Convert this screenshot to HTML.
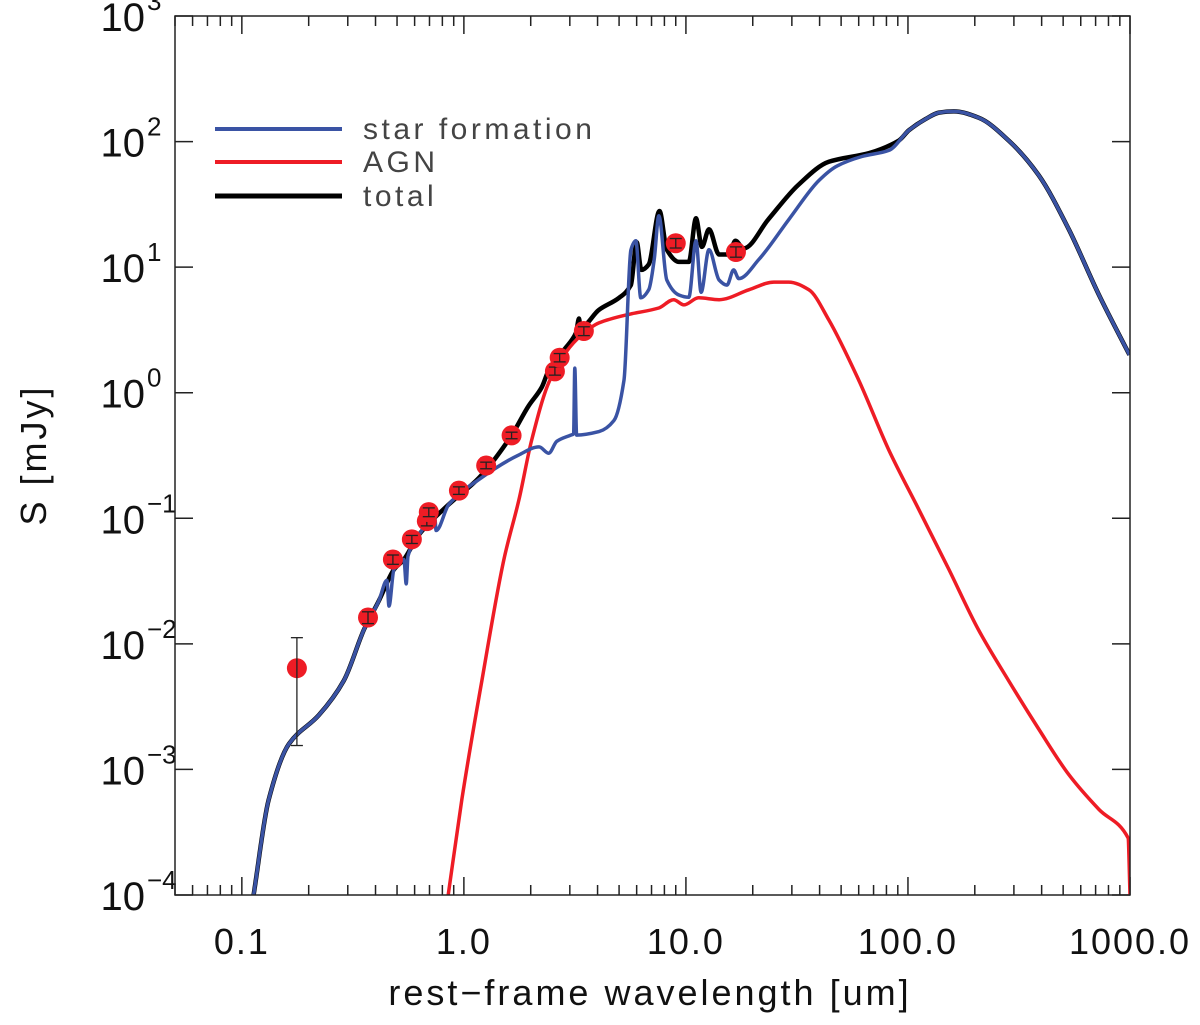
<!DOCTYPE html>
<html><head><meta charset="utf-8"><style>
html,body{margin:0;padding:0;background:#fff;}
svg{display:block;font-family:"Liberation Sans",sans-serif;}
</style></head><body>
<svg id="chart" width="1200" height="1025" viewBox="0 0 1200 1025" xmlns="http://www.w3.org/2000/svg"></svg>
<script>
// ---- data (wavelength in um, flux in mJy) ----
const sfLam = [0.113,0.132,0.163,0.222,0.288,0.355,0.414,0.45,0.46,0.484,0.537,0.55,0.56,0.627,0.74,0.75,0.855,1.17,1.77,2.18,2.41,2.62,3.03,3.12,3.16,3.22,4.06,4.74,5.26,5.65,5.95,6.26,6.8,7.2,7.55,8.2,9.3,10.3,11.1,11.7,12.7,14.1,15.3,16.4,17.3,21.3,29.1,39.7,48,62,82,101,120,138,161,208,284,388,530,725,995];
const sfS   = [1e-4,5.7e-4,1.6e-3,2.7e-3,5.1e-3,1.3e-2,2.2e-2,3.2e-2,2.0e-2,3.9e-2,4.7e-2,3.0e-2,5.0e-2,7.4e-2,0.1,0.08,0.129,0.204,0.32,0.37,0.33,0.41,0.46,0.47,1.57,0.46,0.49,0.60,1.26,13.7,16.2,5.7,6.6,11.5,25.7,7.9,6.0,5.75,16.2,6.3,13.8,7.9,7.2,9.5,8.1,11.5,24,49,64,76,85,123,151,170,174,155,102,54,20,6.0,2.0];
const agnLam = [0.85,0.98,1.205,1.515,1.77,2.02,2.41,2.88,3.4,4.06,5.5,7.55,8.8,9.8,11.4,14.1,19.2,24.9,29,35.8,44,60,82,112,153,208,284,388,530,725,980,1000];
const agnS   = [1e-4,5.8e-4,5.1e-3,4.7e-2,0.14,0.42,1.2,2.1,2.9,3.6,4.2,4.73,5.5,5.0,5.7,5.5,6.6,7.6,7.6,6.6,3.8,1.26,0.35,0.117,0.039,0.0129,0.0051,0.0021,9.1e-4,4.8e-4,2.85e-4,1e-4];
const totLam = [0.113,0.132,0.163,0.222,0.288,0.355,0.414,0.484,0.537,0.627,0.855,1.17,1.63,1.96,2.24,2.41,2.82,3.2,3.3,3.35,4.06,5.0,5.65,6.0,6.3,6.8,7.6,8.2,9.3,10.3,11.1,11.8,12.7,14.1,15.6,16.7,18.2,23.5,32,44,67,91,101,120,138,161,208,284,388,530,725,995];
const totS   = [1e-4,5.7e-4,1.6e-3,2.7e-3,5.1e-3,1.3e-2,2.2e-2,3.9e-2,4.7e-2,7.4e-2,0.129,0.21,0.45,0.79,1.1,1.51,2.19,3.0,3.9,3.3,4.57,5.7,7.2,15.8,9.5,10.5,28,13.8,11.0,11.0,24.5,14.5,20,12.6,12.6,16.2,14.1,24,45,69,81,102,123,151,170,174,155,102,54,20,6.0,2.0];
const ptLam = [0.177,0.370,0.479,0.583,0.681,0.695,0.95,1.26,1.64,2.57,2.70,3.47,9.0,16.8];
const ptS   = [6.4e-3,1.62e-2,4.7e-2,6.8e-2,9.5e-2,0.112,0.166,0.263,0.457,1.48,1.9,3.1,15.5,13.2];
const ptLo  = [1.55e-3,1.45e-2,4.3e-2,6.3e-2,8.7e-2,0.103,0.155,0.248,0.43,1.38,1.76,2.85,14.2,12.0];
const ptHi  = [1.12e-2,1.8e-2,5.1e-2,7.3e-2,0.103,0.121,0.178,0.28,0.485,1.6,2.05,3.35,16.9,14.5];
const xTickVals = [0.1,1,10,100,1000];
const xTickLabels = ["0.1","1.0","10.0","100.0","1000.0"];
const yTickExps = [-4,-3,-2,-1,0,1,2,3];

// ---- axes ----
const L=175,R=1130,T=16,B=895;
const XMIN=0.05,XMAX=1000,YMIN=-4,YMAX=3;
function xs(v){return L+(Math.log10(v)-Math.log10(XMIN))/(Math.log10(XMAX)-Math.log10(XMIN))*(R-L);}
function ys(v){return B-(Math.log10(v)-YMIN)/(YMAX-YMIN)*(B-T);}
const NS="http://www.w3.org/2000/svg";
const svg=document.getElementById('chart');
function mk(tag,attrs,parent){const e=document.createElementNS(NS,tag);for(const k in attrs)e.setAttribute(k,attrs[k]);(parent||svg).appendChild(e);return e;}

const clip=mk('clipPath',{id:'pc'});mk('rect',{x:L,y:T,width:R-L,height:B-T},clip);

// ticks
const ticks=mk('g',{stroke:'#222','stroke-width':1.5});


for(let d=-2;d<=3;d++){for(let m=1;m<=9;m++){const v=m*Math.pow(10,d);if(v<XMIN||v>XMAX)continue;const x=xs(v);const len=m===1?18:10;
 mk('line',{x1:x,y1:B,x2:x,y2:B-len},ticks);mk('line',{x1:x,y1:T,x2:x,y2:T+len},ticks);}}
yTickExps.forEach(e=>{const y=ys(Math.pow(10,e));mk('line',{x1:L,y1:y,x2:L+18,y2:y},ticks);mk('line',{x1:R,y1:y,x2:R-18,y2:y},ticks);});

// tick labels
xTickVals.forEach((v,i)=>{const t=mk('text',{x:xs(v),y:954,'font-size':36,'text-anchor':'middle',fill:'#111','letter-spacing':2});t.textContent=xTickLabels[i];
 
 });
yTickExps.forEach(e=>{const y=ys(Math.pow(10,e));const t=mk('text',{x:145,y:y+15,'font-size':40,'text-anchor':'end',fill:'#111'});t.textContent='10';
 
 
 const s=mk('text',{x:147,y:y-6,'font-size':26,'text-anchor':'start',fill:'#111'});s.textContent=(e<0?'\u2212'+(-e):String(e));
 
 });

// curves (monotone cubic through data points, in pixel space)
const plot=mk('g',{'clip-path':'url(#pc)',fill:'none','stroke-linejoin':'round'});


function path(lam,S){
 const X=lam.map(xs),Y=S.map(ys),n=X.length;
 const d=[],m=[];
 for(let i=0;i<n-1;i++){const h=X[i+1]-X[i];d.push(h>0?(Y[i+1]-Y[i])/h:0);}
 for(let i=0;i<n;i++){
  if(i===0)m.push(d[0]);else if(i===n-1)m.push(d[n-2]);
  else if(d[i-1]*d[i]<=0)m.push(0);
  else m.push(2/(1/d[i-1]+1/d[i]));
 }
 let p='M'+X[0].toFixed(1)+','+Y[0].toFixed(1);
 for(let i=0;i<n-1;i++){const h=(X[i+1]-X[i])/3;
  p+=' C'+(X[i]+h).toFixed(1)+','+(Y[i]+m[i]*h).toFixed(1)+' '+(X[i+1]-h).toFixed(1)+','+(Y[i+1]-m[i+1]*h).toFixed(1)+' '+X[i+1].toFixed(1)+','+Y[i+1].toFixed(1);}
 return p;}
const pt=mk('path',{d:path(totLam,totS),stroke:'#000','stroke-width':4.5},plot);


const pa=mk('path',{d:path(agnLam,agnS),stroke:'#ee1c25','stroke-width':3.5},plot);


const ps=mk('path',{d:path(sfLam,sfS),stroke:'#3a53a4','stroke-width':3.5},plot);



// data points
ptLam.forEach((v,i)=>{const g=mk('g',{},plot);
 
 
 const x=xs(v);
 mk('circle',{cx:x,cy:ys(ptS[i]),r:10,fill:'#ee1c25'},g);
 mk('line',{x1:x,y1:ys(ptLo[i]),x2:x,y2:ys(ptHi[i]),stroke:'#222','stroke-width':1.3},g);
 mk('line',{x1:x-6,y1:ys(ptLo[i]),x2:x+6,y2:ys(ptLo[i]),stroke:'#222','stroke-width':1.3},g);
 mk('line',{x1:x-6,y1:ys(ptHi[i]),x2:x+6,y2:ys(ptHi[i]),stroke:'#222','stroke-width':1.3},g);});

// frame
const fr=mk('rect',{x:L,y:T,width:R-L,height:B-T,fill:'none',stroke:'#222','stroke-width':1.5});



// legend
const leg=[['star formation','#3a53a4',129],['AGN','#ee1c25',162],['total','#000',196]];
leg.forEach(l=>{const g=mk('g',{});
 
 
 mk('line',{x1:215,y1:l[2],x2:342,y2:l[2],stroke:l[1],'stroke-width':l[1]==='#000'?5:4},g);
 const t=mk('text',{x:363,y:l[2]+10,'font-size':30,fill:'#444','letter-spacing':3.5},g);t.textContent=l[0];});

// axis titles
const xt=mk('text',{x:650,y:1005,'font-size':36,'text-anchor':'middle',fill:'#111','letter-spacing':3});xt.textContent='rest\u2212frame wavelength [um]';


const yt=mk('text',{x:0,y:0,'font-size':36,'text-anchor':'middle',fill:'#111','letter-spacing':3,transform:'translate(46,455) rotate(-90)'});yt.textContent='S [mJy]';


</script>
</body></html>
